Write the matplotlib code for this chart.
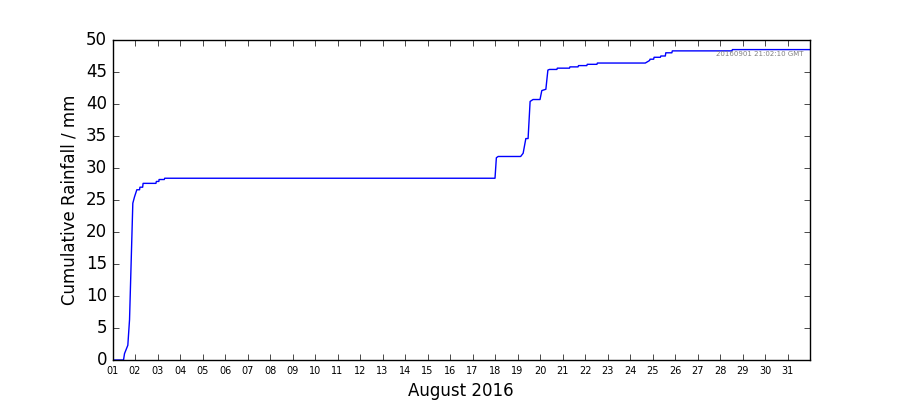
import datetime as dt
import matplotlib
matplotlib.use("Agg")
import matplotlib.pyplot as plt
import matplotlib.dates as mdates

plt.style.use("classic")

# rainfall gauge trace, August 2016 (fractional day of month, cumulative mm)
day = [1.0, 1.49, 1.534, 1.681, 1.757, 1.903, 1.979, 2.081, 2.202, 2.22, 2.34,
       2.36, 2.93, 2.95, 3.06, 3.07, 3.30, 3.32, 18.0, 18.06, 18.14, 19.14,
       19.25, 19.37, 19.47, 19.56, 19.69, 20.0, 20.08, 20.26, 20.35, 20.42,
       20.75, 20.77, 21.31, 21.33, 21.69, 21.71, 22.08, 22.10, 22.53, 22.55,
       24.68, 24.87, 24.89, 25.05, 25.07, 25.35, 25.37, 25.57, 25.59, 25.86,
       25.88, 28.53, 28.55, 32.0]
rain = [0.0, 0.0, 1.0, 2.3, 6.3, 24.5, 25.5, 26.6, 26.6, 27.0, 27.0,
        27.6, 27.6, 27.9, 27.9, 28.2, 28.2, 28.4, 28.4, 31.6, 31.8, 31.8,
        32.3, 34.6, 34.6, 40.4, 40.7, 40.7, 42.1, 42.3, 45.3, 45.4,
        45.4, 45.6, 45.6, 45.8, 45.8, 46.0, 46.0, 46.2, 46.2, 46.4,
        46.4, 46.8, 47.0, 47.0, 47.3, 47.3, 47.5, 47.5, 48.0, 48.0,
        48.3, 48.3, 48.5, 48.5]
stamp = "20160901 21:02:10 GMT"

start = dt.datetime(2016, 8, 1)
times = [start + dt.timedelta(days=d - 1) for d in day]

fig = plt.figure(figsize=(9, 4), dpi=100, facecolor="white")
ax = fig.add_axes([0.125, 0.1, 0.775, 0.8])
ax.plot(times, rain, color="b", linewidth=1)

ax.set_xlim(start, dt.datetime(2016, 8, 31, 23, 59))
ax.set_ylim(0, 50)
ax.set_yticks(range(0, 51, 5))
ax.xaxis.set_major_locator(mdates.DayLocator())
ax.xaxis.set_major_formatter(mdates.DateFormatter("%d"))
ax.tick_params(axis="x", labelsize=7)
ax.tick_params(axis="y", labelsize=12)
ax.set_xlabel("August 2016", fontsize=12)
ax.set_ylabel("Cumulative Rainfall / mm", fontsize=12)
ax.text(0.99, 0.955, stamp, transform=ax.transAxes, ha="right", va="center",
        fontsize=5, color="gray")

fig.savefig("out.png", dpi=100, facecolor="white")
